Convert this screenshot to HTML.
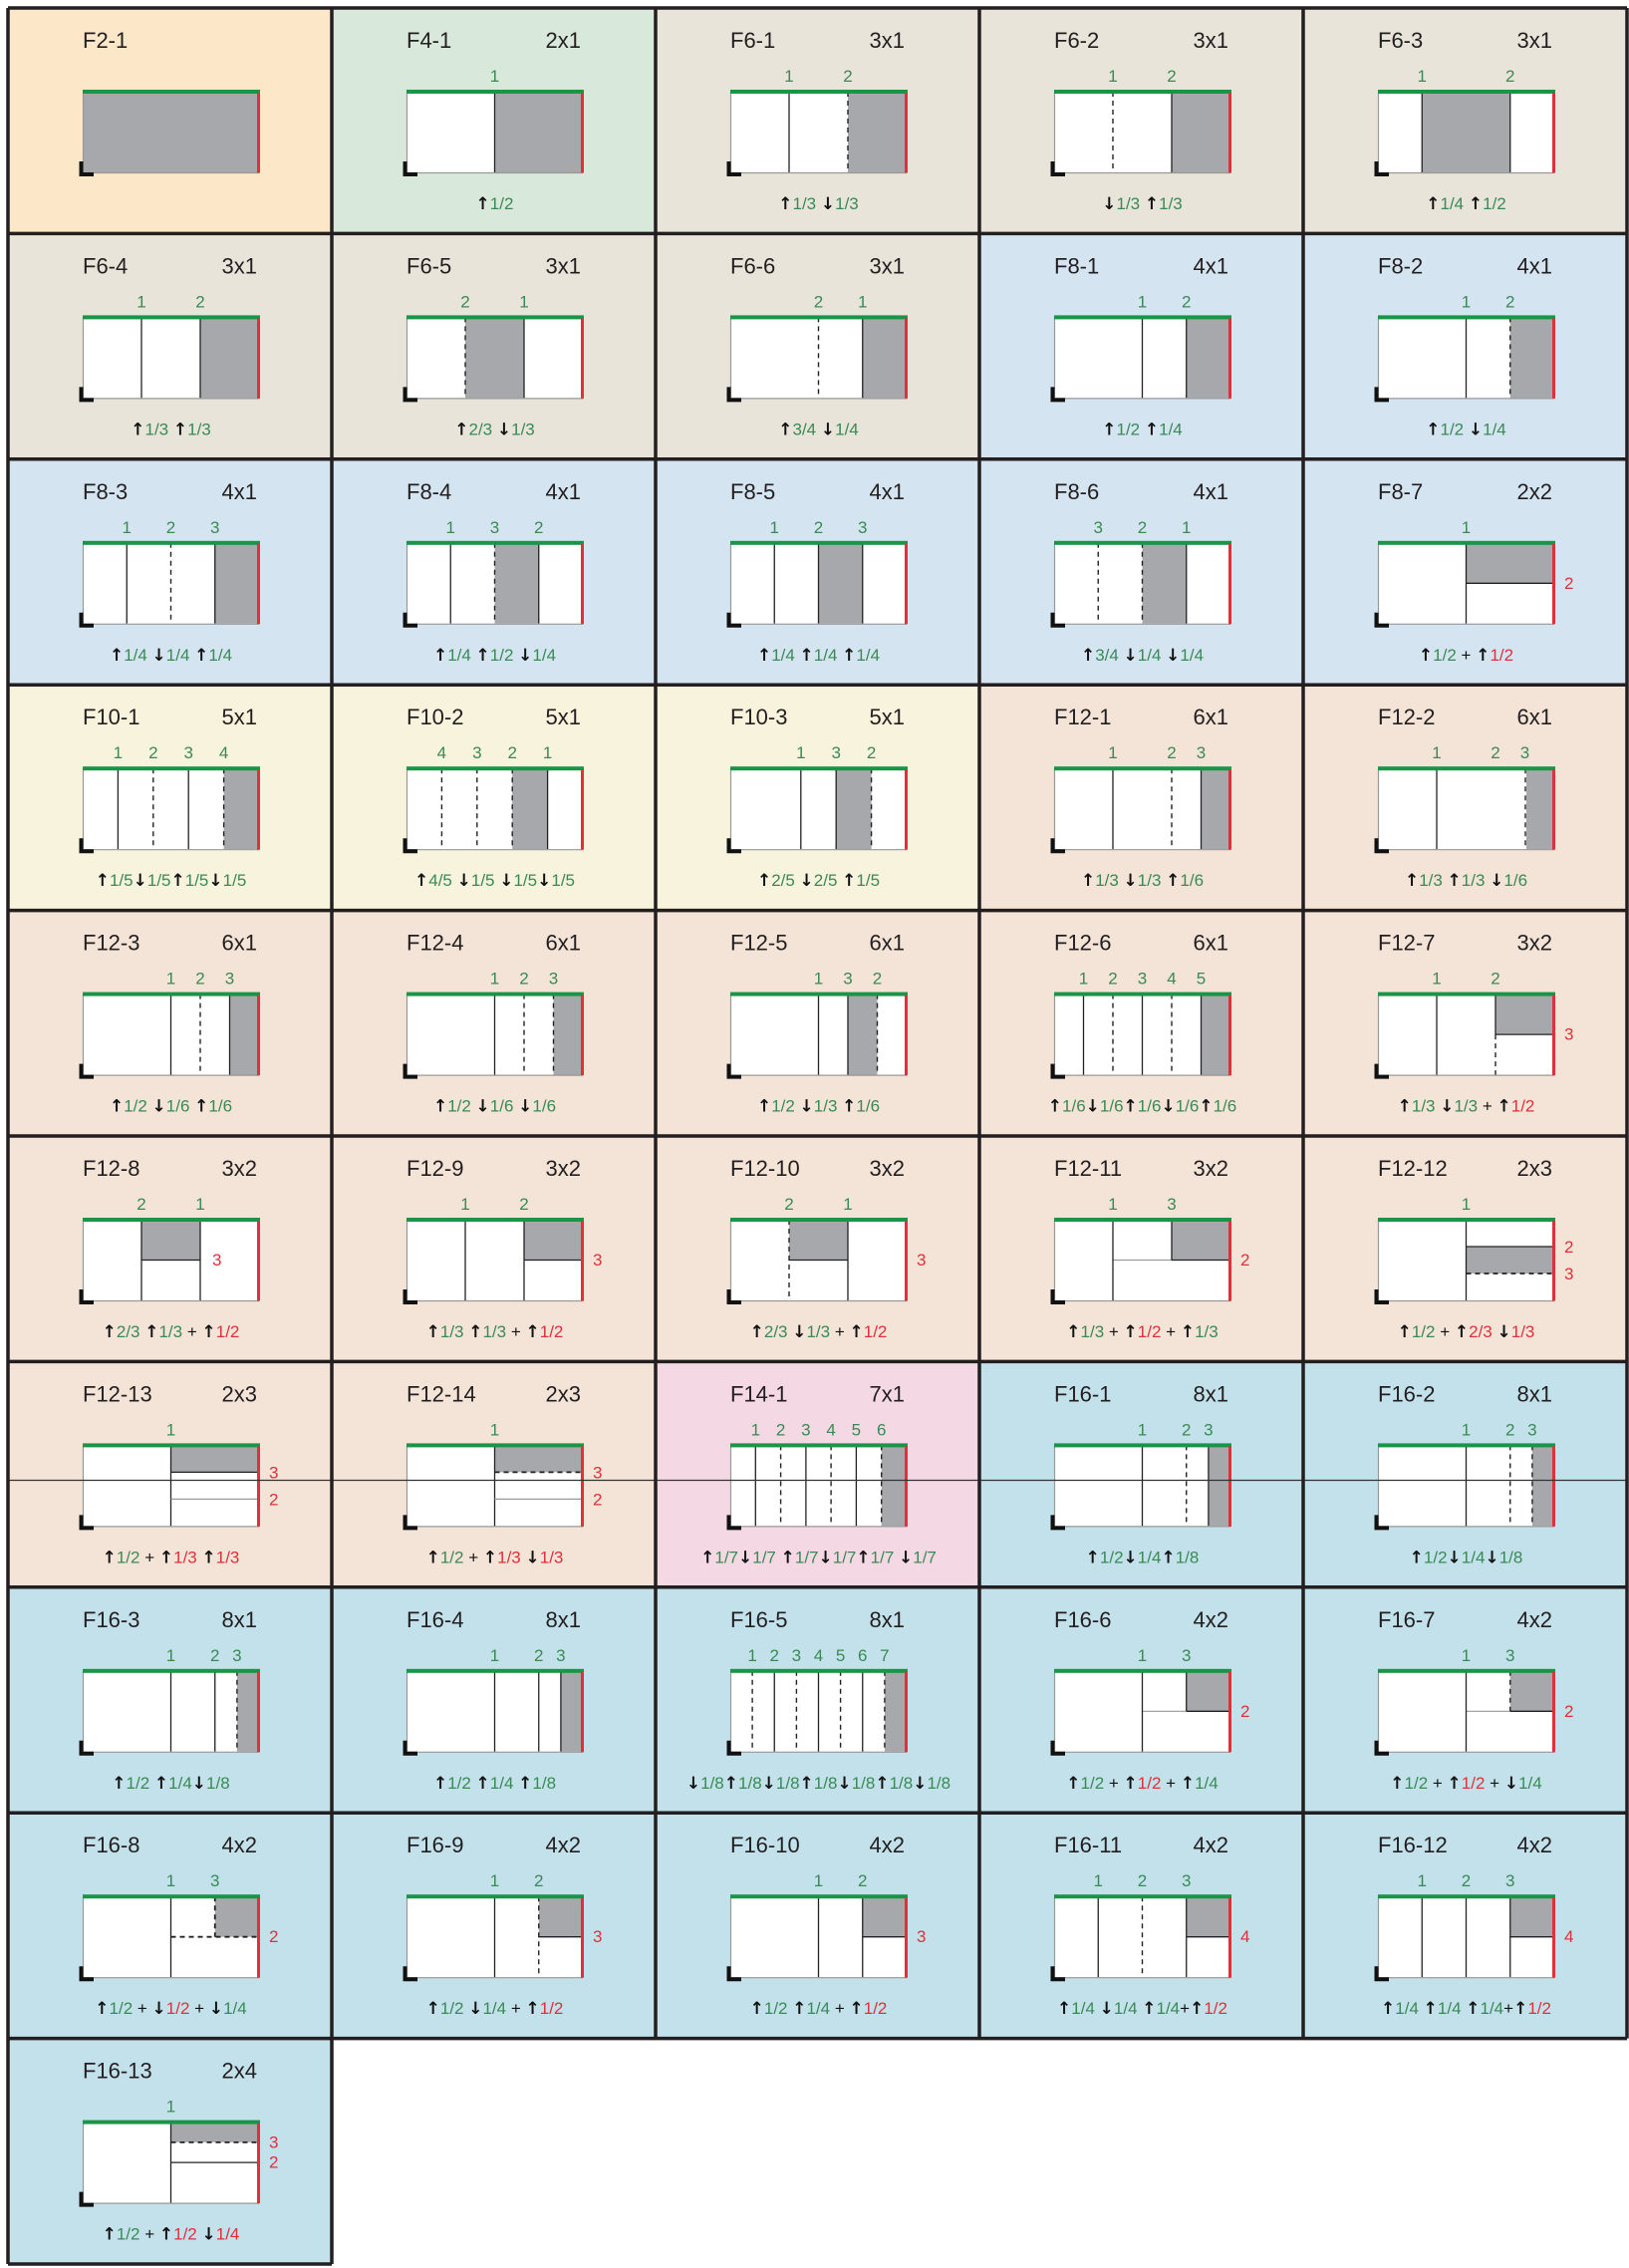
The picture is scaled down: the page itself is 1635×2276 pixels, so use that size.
<!DOCTYPE html>
<html><head><meta charset="utf-8"><style>
html,body{margin:0;padding:0;background:#fff}
svg{display:block}
.t{font:22px "Liberation Sans",sans-serif;fill:#231f20}
.e{text-anchor:end}
.n{font:17px "Liberation Sans",sans-serif;fill:#3a8a55;text-anchor:middle}
.r{font:17px "Liberation Sans",sans-serif;fill:#e0303a}
.b{font:17px "Liberation Sans",sans-serif;fill:#3a8a55;text-anchor:middle}
.a{font-family:"DejaVu Sans",sans-serif;font-weight:bold;fill:#111}
.rd{fill:#e0303a}
.k{fill:#111}
.s{stroke:#222;stroke-width:1.3;fill:none}
.d{stroke:#222;stroke-width:1.4;stroke-dasharray:5 4;fill:none}
.h{stroke:#999;stroke-width:1.2;fill:none}
.g{fill:#a7a8ab}
.w{fill:#fff}
</style></head><body>
<svg width="1635" height="2276" viewBox="0 0 1635 2276" xmlns="http://www.w3.org/2000/svg">
<defs>
<g id="fr"><path d="M75.5 84V165.5H252" stroke="#999" stroke-width="1.2" fill="none"/><rect x="75" y="82" width="178" height="4" fill="#1a9446"/><rect x="250" y="85" width="3" height="80.5" fill="#e0303a"/><path d="M71.5 154h4v11h10.5v4h-14.5z" fill="#111"/></g>
<rect id="wr" x="75" y="84" width="177" height="81" fill="#fff"/>
</defs>

<!-- Row 0 -->
<g transform="translate(8,8)"><rect width="325" height="226.4" fill="#fde7c9"/><use href="#wr"/>
<rect class="g" x="75" y="84" width="177" height="81"/><use href="#fr"/>
<text class="t" x="75" y="40">F2-1</text></g>

<g transform="translate(333,8)"><rect width="325" height="226.4" fill="#d8e8da"/><use href="#wr"/>
<rect class="g" x="163.5" y="84" width="88.5" height="81"/><path class="s" d="M163.5 84V165"/><use href="#fr"/>
<text class="t" x="75" y="40">F4-1</text><text class="t e" x="250" y="40">2x1</text>
<text class="n" x="163.5" y="74">1</text>
<text class="b" x="163.5" y="202"><tspan class="a">↑</tspan>1/2</text></g>

<g transform="translate(658,8)"><rect width="325" height="226.4" fill="#e8e4d9"/><use href="#wr"/>
<rect class="g" x="193" y="84" width="59" height="81"/><path class="s" d="M134 84V165"/><path class="d" d="M193 84V165"/><use href="#fr"/>
<text class="t" x="75" y="40">F6-1</text><text class="t e" x="250" y="40">3x1</text>
<text class="n" x="134" y="74">1</text><text class="n" x="193" y="74">2</text>
<text class="b" x="163.5" y="202"><tspan class="a">↑</tspan>1/3 <tspan class="a">↓</tspan>1/3</text></g>

<g transform="translate(983,8)"><rect width="325" height="226.4" fill="#e8e4d9"/><use href="#wr"/>
<rect class="g" x="193" y="84" width="59" height="81"/><path class="d" d="M134 84V165"/><path class="s" d="M193 84V165"/><use href="#fr"/>
<text class="t" x="75" y="40">F6-2</text><text class="t e" x="250" y="40">3x1</text>
<text class="n" x="134" y="74">1</text><text class="n" x="193" y="74">2</text>
<text class="b" x="163.5" y="202"><tspan class="a">↓</tspan>1/3 <tspan class="a">↑</tspan>1/3</text></g>

<g transform="translate(1308,8)"><rect width="325" height="226.4" fill="#e8e4d9"/><use href="#wr"/>
<rect class="g" x="119.25" y="84" width="88.5" height="81"/><path class="s" d="M119.25 84V165M207.75 84V165"/><use href="#fr"/>
<text class="t" x="75" y="40">F6-3</text><text class="t e" x="250" y="40">3x1</text>
<text class="n" x="119.25" y="74">1</text><text class="n" x="207.75" y="74">2</text>
<text class="b" x="163.5" y="202"><tspan class="a">↑</tspan>1/4 <tspan class="a">↑</tspan>1/2</text></g>

<!-- Row 1 -->
<g transform="translate(8,234.4)"><rect width="325" height="226.4" fill="#e8e4d9"/><use href="#wr"/>
<rect class="g" x="193" y="84" width="59" height="81"/><path class="s" d="M134 84V165M193 84V165"/><use href="#fr"/>
<text class="t" x="75" y="40">F6-4</text><text class="t e" x="250" y="40">3x1</text>
<text class="n" x="134" y="74">1</text><text class="n" x="193" y="74">2</text>
<text class="b" x="163.5" y="202"><tspan class="a">↑</tspan>1/3 <tspan class="a">↑</tspan>1/3</text></g>

<g transform="translate(333,234.4)"><rect width="325" height="226.4" fill="#e8e4d9"/><use href="#wr"/>
<rect class="g" x="134" y="84" width="59" height="81"/><path class="d" d="M134 84V165"/><path class="s" d="M193 84V165"/><use href="#fr"/>
<text class="t" x="75" y="40">F6-5</text><text class="t e" x="250" y="40">3x1</text>
<text class="n" x="134" y="74">2</text><text class="n" x="193" y="74">1</text>
<text class="b" x="163.5" y="202"><tspan class="a">↑</tspan>2/3 <tspan class="a">↓</tspan>1/3</text></g>

<g transform="translate(658,234.4)"><rect width="325" height="226.4" fill="#e8e4d9"/><use href="#wr"/>
<rect class="g" x="207.75" y="84" width="44.25" height="81"/><path class="d" d="M163.5 84V165"/><path class="s" d="M207.75 84V165"/><use href="#fr"/>
<text class="t" x="75" y="40">F6-6</text><text class="t e" x="250" y="40">3x1</text>
<text class="n" x="163.5" y="74">2</text><text class="n" x="207.75" y="74">1</text>
<text class="b" x="163.5" y="202"><tspan class="a">↑</tspan>3/4 <tspan class="a">↓</tspan>1/4</text></g>

<g transform="translate(983,234.4)"><rect width="325" height="226.4" fill="#d4e5f1"/><use href="#wr"/>
<rect class="g" x="207.75" y="84" width="44.25" height="81"/><path class="s" d="M163.5 84V165M207.75 84V165"/><use href="#fr"/>
<text class="t" x="75" y="40">F8-1</text><text class="t e" x="250" y="40">4x1</text>
<text class="n" x="163.5" y="74">1</text><text class="n" x="207.75" y="74">2</text>
<text class="b" x="163.5" y="202"><tspan class="a">↑</tspan>1/2 <tspan class="a">↑</tspan>1/4</text></g>

<g transform="translate(1308,234.4)"><rect width="325" height="226.4" fill="#d4e5f1"/><use href="#wr"/>
<rect class="g" x="207.75" y="84" width="44.25" height="81"/><path class="s" d="M163.5 84V165"/><path class="d" d="M207.75 84V165"/><use href="#fr"/>
<text class="t" x="75" y="40">F8-2</text><text class="t e" x="250" y="40">4x1</text>
<text class="n" x="163.5" y="74">1</text><text class="n" x="207.75" y="74">2</text>
<text class="b" x="163.5" y="202"><tspan class="a">↑</tspan>1/2 <tspan class="a">↓</tspan>1/4</text></g>

<!-- Row 2 -->
<g transform="translate(8,460.8)"><rect width="325" height="226.4" fill="#d4e5f1"/><use href="#wr"/>
<rect class="g" x="207.75" y="84" width="44.25" height="81"/><path class="s" d="M119.25 84V165M207.75 84V165"/><path class="d" d="M163.5 84V165"/><use href="#fr"/>
<text class="t" x="75" y="40">F8-3</text><text class="t e" x="250" y="40">4x1</text>
<text class="n" x="119.25" y="74">1</text><text class="n" x="163.5" y="74">2</text><text class="n" x="207.75" y="74">3</text>
<text class="b" x="163.5" y="202"><tspan class="a">↑</tspan>1/4 <tspan class="a">↓</tspan>1/4 <tspan class="a">↑</tspan>1/4</text></g>

<g transform="translate(333,460.8)"><rect width="325" height="226.4" fill="#d4e5f1"/><use href="#wr"/>
<rect class="g" x="163.5" y="84" width="44.25" height="81"/><path class="s" d="M119.25 84V165M207.75 84V165"/><path class="d" d="M163.5 84V165"/><use href="#fr"/>
<text class="t" x="75" y="40">F8-4</text><text class="t e" x="250" y="40">4x1</text>
<text class="n" x="119.25" y="74">1</text><text class="n" x="163.5" y="74">3</text><text class="n" x="207.75" y="74">2</text>
<text class="b" x="163.5" y="202"><tspan class="a">↑</tspan>1/4 <tspan class="a">↑</tspan>1/2 <tspan class="a">↓</tspan>1/4</text></g>

<g transform="translate(658,460.8)"><rect width="325" height="226.4" fill="#d4e5f1"/><use href="#wr"/>
<rect class="g" x="163.5" y="84" width="44.25" height="81"/><path class="s" d="M119.25 84V165M163.5 84V165M207.75 84V165"/><use href="#fr"/>
<text class="t" x="75" y="40">F8-5</text><text class="t e" x="250" y="40">4x1</text>
<text class="n" x="119.25" y="74">1</text><text class="n" x="163.5" y="74">2</text><text class="n" x="207.75" y="74">3</text>
<text class="b" x="163.5" y="202"><tspan class="a">↑</tspan>1/4 <tspan class="a">↑</tspan>1/4 <tspan class="a">↑</tspan>1/4</text></g>

<g transform="translate(983,460.8)"><rect width="325" height="226.4" fill="#d4e5f1"/><use href="#wr"/>
<rect class="g" x="163.5" y="84" width="44.25" height="81"/><path class="d" d="M119.25 84V165M163.5 84V165"/><path class="s" d="M207.75 84V165"/><use href="#fr"/>
<text class="t" x="75" y="40">F8-6</text><text class="t e" x="250" y="40">4x1</text>
<text class="n" x="119.25" y="74">3</text><text class="n" x="163.5" y="74">2</text><text class="n" x="207.75" y="74">1</text>
<text class="b" x="163.5" y="202"><tspan class="a">↑</tspan>3/4 <tspan class="a">↓</tspan>1/4 <tspan class="a">↓</tspan>1/4</text></g>

<g transform="translate(1308,460.8)"><rect width="325" height="226.4" fill="#d4e5f1"/><use href="#wr"/>
<rect class="g" x="163.5" y="84" width="88.5" height="40.5"/><path class="s" d="M163.5 84V165M163.5 124.5H252"/><use href="#fr"/>
<text class="t" x="75" y="40">F8-7</text><text class="t e" x="250" y="40">2x2</text>
<text class="n" x="163.5" y="74">1</text><text class="r" x="262" y="130">2</text>
<text class="b" x="163.5" y="202"><tspan class="a">↑</tspan>1/2 <tspan class="k">+</tspan> <tspan class="a">↑</tspan><tspan class="rd">1/2</tspan></text></g>

<!-- Row 3 -->
<g transform="translate(8,687.2)"><rect width="325" height="226.4" fill="#f8f3dc"/><use href="#wr"/>
<rect class="g" x="216.6" y="84" width="35.4" height="81"/><path class="s" d="M110.4 84V165M181.2 84V165"/><path class="d" d="M145.8 84V165M216.6 84V165"/><use href="#fr"/>
<text class="t" x="75" y="40">F10-1</text><text class="t e" x="250" y="40">5x1</text>
<text class="n" x="110.4" y="74">1</text><text class="n" x="145.8" y="74">2</text><text class="n" x="181.2" y="74">3</text><text class="n" x="216.6" y="74">4</text>
<text class="b" x="163.5" y="202"><tspan class="a">↑</tspan>1/5<tspan class="a">↓</tspan>1/5<tspan class="a">↑</tspan>1/5<tspan class="a">↓</tspan>1/5</text></g>

<g transform="translate(333,687.2)"><rect width="325" height="226.4" fill="#f8f3dc"/><use href="#wr"/>
<rect class="g" x="181.2" y="84" width="35.4" height="81"/><path class="d" d="M110.4 84V165M145.8 84V165M181.2 84V165"/><path class="s" d="M216.6 84V165"/><use href="#fr"/>
<text class="t" x="75" y="40">F10-2</text><text class="t e" x="250" y="40">5x1</text>
<text class="n" x="110.4" y="74">4</text><text class="n" x="145.8" y="74">3</text><text class="n" x="181.2" y="74">2</text><text class="n" x="216.6" y="74">1</text>
<text class="b" x="163.5" y="202"><tspan class="a">↑</tspan>4/5 <tspan class="a">↓</tspan>1/5 <tspan class="a">↓</tspan>1/5<tspan class="a">↓</tspan>1/5</text></g>

<g transform="translate(658,687.2)"><rect width="325" height="226.4" fill="#f8f3dc"/><use href="#wr"/>
<rect class="g" x="181.2" y="84" width="35.4" height="81"/><path class="s" d="M145.8 84V165M181.2 84V165"/><path class="d" d="M216.6 84V165"/><use href="#fr"/>
<text class="t" x="75" y="40">F10-3</text><text class="t e" x="250" y="40">5x1</text>
<text class="n" x="145.8" y="74">1</text><text class="n" x="181.2" y="74">3</text><text class="n" x="216.6" y="74">2</text>
<text class="b" x="163.5" y="202"><tspan class="a">↑</tspan>2/5 <tspan class="a">↓</tspan>2/5 <tspan class="a">↑</tspan>1/5</text></g>

<g transform="translate(983,687.2)"><rect width="325" height="226.4" fill="#f4e3d7"/><use href="#wr"/>
<rect class="g" x="222.5" y="84" width="29.5" height="81"/><path class="s" d="M134 84V165M222.5 84V165"/><path class="d" d="M193 84V165"/><use href="#fr"/>
<text class="t" x="75" y="40">F12-1</text><text class="t e" x="250" y="40">6x1</text>
<text class="n" x="134" y="74">1</text><text class="n" x="193" y="74">2</text><text class="n" x="222.5" y="74">3</text>
<text class="b" x="163.5" y="202"><tspan class="a">↑</tspan>1/3 <tspan class="a">↓</tspan>1/3 <tspan class="a">↑</tspan>1/6</text></g>

<g transform="translate(1308,687.2)"><rect width="325" height="226.4" fill="#f4e3d7"/><use href="#wr"/>
<rect class="g" x="224" y="84" width="28" height="81"/><path class="s" d="M134 84V165"/><path class="d" d="M223 84V165"/><use href="#fr"/>
<text class="t" x="75" y="40">F12-2</text><text class="t e" x="250" y="40">6x1</text>
<text class="n" x="134" y="74">1</text><text class="n" x="193" y="74">2</text><text class="n" x="222.5" y="74">3</text>
<text class="b" x="163.5" y="202"><tspan class="a">↑</tspan>1/3 <tspan class="a">↑</tspan>1/3 <tspan class="a">↓</tspan>1/6</text></g>

<!-- Row 4 -->
<g transform="translate(8,913.6)"><rect width="325" height="226.4" fill="#f4e3d7"/><use href="#wr"/>
<rect class="g" x="222.5" y="84" width="29.5" height="81"/><path class="s" d="M163.5 84V165M222.5 84V165"/><path class="d" d="M193 84V165"/><use href="#fr"/>
<text class="t" x="75" y="40">F12-3</text><text class="t e" x="250" y="40">6x1</text>
<text class="n" x="163.5" y="74">1</text><text class="n" x="193" y="74">2</text><text class="n" x="222.5" y="74">3</text>
<text class="b" x="163.5" y="202"><tspan class="a">↑</tspan>1/2 <tspan class="a">↓</tspan>1/6 <tspan class="a">↑</tspan>1/6</text></g>

<g transform="translate(333,913.6)"><rect width="325" height="226.4" fill="#f4e3d7"/><use href="#wr"/>
<rect class="g" x="222.5" y="84" width="29.5" height="81"/><path class="s" d="M163.5 84V165"/><path class="d" d="M193 84V165M222.5 84V165"/><use href="#fr"/>
<text class="t" x="75" y="40">F12-4</text><text class="t e" x="250" y="40">6x1</text>
<text class="n" x="163.5" y="74">1</text><text class="n" x="193" y="74">2</text><text class="n" x="222.5" y="74">3</text>
<text class="b" x="163.5" y="202"><tspan class="a">↑</tspan>1/2 <tspan class="a">↓</tspan>1/6 <tspan class="a">↓</tspan>1/6</text></g>

<g transform="translate(658,913.6)"><rect width="325" height="226.4" fill="#f4e3d7"/><use href="#wr"/>
<rect class="g" x="193" y="84" width="29.5" height="81"/><path class="s" d="M163.5 84V165M193 84V165"/><path class="d" d="M222.5 84V165"/><use href="#fr"/>
<text class="t" x="75" y="40">F12-5</text><text class="t e" x="250" y="40">6x1</text>
<text class="n" x="163.5" y="74">1</text><text class="n" x="193" y="74">3</text><text class="n" x="222.5" y="74">2</text>
<text class="b" x="163.5" y="202"><tspan class="a">↑</tspan>1/2 <tspan class="a">↓</tspan>1/3 <tspan class="a">↑</tspan>1/6</text></g>

<g transform="translate(983,913.6)"><rect width="325" height="226.4" fill="#f4e3d7"/><use href="#wr"/>
<rect class="g" x="222.5" y="84" width="29.5" height="81"/><path class="s" d="M104.5 84V165M163.5 84V165M222.5 84V165"/><path class="d" d="M134 84V165M193 84V165"/><use href="#fr"/>
<text class="t" x="75" y="40">F12-6</text><text class="t e" x="250" y="40">6x1</text>
<text class="n" x="104.5" y="74">1</text><text class="n" x="134" y="74">2</text><text class="n" x="163.5" y="74">3</text><text class="n" x="193" y="74">4</text><text class="n" x="222.5" y="74">5</text>
<text class="b" x="163.5" y="202"><tspan class="a">↑</tspan>1/6<tspan class="a">↓</tspan>1/6<tspan class="a">↑</tspan>1/6<tspan class="a">↓</tspan>1/6<tspan class="a">↑</tspan>1/6</text></g>

<g transform="translate(1308,913.6)"><rect width="325" height="226.4" fill="#f4e3d7"/><use href="#wr"/>
<rect class="g" x="193" y="84" width="59" height="40.5"/><path class="s" d="M134 84V165M193 124.5H252M193 84V124.5"/><path class="d" d="M193 124.5V165"/><use href="#fr"/>
<text class="t" x="75" y="40">F12-7</text><text class="t e" x="250" y="40">3x2</text>
<text class="n" x="134" y="74">1</text><text class="n" x="193" y="74">2</text><text class="r" x="262" y="130">3</text>
<text class="b" x="163.5" y="202"><tspan class="a">↑</tspan>1/3 <tspan class="a">↓</tspan>1/3 <tspan class="k">+</tspan> <tspan class="a">↑</tspan><tspan class="rd">1/2</tspan></text></g>

<!-- Row 5 -->
<g transform="translate(8,1140)"><rect width="325" height="226.4" fill="#f4e3d7"/><use href="#wr"/>
<rect class="g" x="134" y="84" width="59" height="40.5"/><path class="s" d="M134 84V165M193 84V165M134 124.5H193"/><use href="#fr"/>
<text class="t" x="75" y="40">F12-8</text><text class="t e" x="250" y="40">3x2</text>
<text class="n" x="134" y="74">2</text><text class="n" x="193" y="74">1</text><text class="r" x="205" y="130">3</text>
<text class="b" x="163.5" y="202"><tspan class="a">↑</tspan>2/3 <tspan class="a">↑</tspan>1/3 <tspan class="k">+</tspan> <tspan class="a">↑</tspan><tspan class="rd">1/2</tspan></text></g>

<g transform="translate(333,1140)"><rect width="325" height="226.4" fill="#f4e3d7"/><use href="#wr"/>
<rect class="g" x="193" y="84" width="59" height="40.5"/><path class="s" d="M134 84V165M193 84V165M193 124.5H252"/><use href="#fr"/>
<text class="t" x="75" y="40">F12-9</text><text class="t e" x="250" y="40">3x2</text>
<text class="n" x="134" y="74">1</text><text class="n" x="193" y="74">2</text><text class="r" x="262" y="130">3</text>
<text class="b" x="163.5" y="202"><tspan class="a">↑</tspan>1/3 <tspan class="a">↑</tspan>1/3 <tspan class="k">+</tspan> <tspan class="a">↑</tspan><tspan class="rd">1/2</tspan></text></g>

<g transform="translate(658,1140)"><rect width="325" height="226.4" fill="#f4e3d7"/><use href="#wr"/>
<rect class="g" x="134" y="84" width="59" height="40.5"/><path class="d" d="M134 84V165"/><path class="s" d="M193 84V165M134 124.5H193"/><use href="#fr"/>
<text class="t" x="75" y="40">F12-10</text><text class="t e" x="250" y="40">3x2</text>
<text class="n" x="134" y="74">2</text><text class="n" x="193" y="74">1</text><text class="r" x="262" y="130">3</text>
<text class="b" x="163.5" y="202"><tspan class="a">↑</tspan>2/3 <tspan class="a">↓</tspan>1/3 <tspan class="k">+</tspan> <tspan class="a">↑</tspan><tspan class="rd">1/2</tspan></text></g>

<g transform="translate(983,1140)"><rect width="325" height="226.4" fill="#f4e3d7"/><use href="#wr"/>
<rect class="g" x="193" y="84" width="59" height="40.5"/><path class="h" d="M134 124.5H193"/><path class="s" d="M134 84V165M193 84V124.5M193 124.5H252M134 84.5H193"/><use href="#fr"/>
<text class="t" x="75" y="40">F12-11</text><text class="t e" x="250" y="40">3x2</text>
<text class="n" x="134" y="74">1</text><text class="n" x="193" y="74">3</text><text class="r" x="262" y="130">2</text>
<text class="b" x="163.5" y="202"><tspan class="a">↑</tspan>1/3 <tspan class="k">+</tspan> <tspan class="a">↑</tspan><tspan class="rd">1/2</tspan> <tspan class="k">+</tspan> <tspan class="a">↑</tspan>1/3</text></g>

<g transform="translate(1308,1140)"><rect width="325" height="226.4" fill="#f4e3d7"/><use href="#wr"/>
<rect class="g" x="163.5" y="111" width="88.5" height="27"/><path class="s" d="M163.5 84V165M163.5 111H252M163.5 84.5H252"/><path class="d" d="M163.5 138H252" style="stroke-width:1.8"/><use href="#fr"/>
<text class="t" x="75" y="40">F12-12</text><text class="t e" x="250" y="40">2x3</text>
<text class="n" x="163.5" y="74">1</text><text class="r" x="262" y="117">2</text><text class="r" x="262" y="144">3</text>
<text class="b" x="163.5" y="202"><tspan class="a">↑</tspan>1/2 <tspan class="k">+</tspan> <tspan class="a">↑</tspan><tspan class="rd">2/3</tspan>  <tspan class="a">↓</tspan><tspan class="rd">1/3</tspan></text></g>

<!-- Row 6 -->
<g transform="translate(8,1366.4)"><rect width="325" height="226.4" fill="#f4e3d7"/><use href="#wr"/>
<rect class="g" x="163.5" y="84" width="88.5" height="27"/><path class="s" d="M163.5 84V165M163.5 111H252"/><path class="h" d="M163.5 138H252"/><use href="#fr"/>
<text class="t" x="75" y="40">F12-13</text><text class="t e" x="250" y="40">2x3</text>
<text class="n" x="163.5" y="74">1</text><text class="r" x="262" y="117">3</text><text class="r" x="262" y="144">2</text>
<text class="b" x="163.5" y="202"><tspan class="a">↑</tspan>1/2 <tspan class="k">+</tspan> <tspan class="a">↑</tspan><tspan class="rd">1/3</tspan>  <tspan class="a">↑</tspan><tspan class="rd">1/3</tspan></text></g>

<g transform="translate(333,1366.4)"><rect width="325" height="226.4" fill="#f4e3d7"/><use href="#wr"/>
<rect class="g" x="163.5" y="84" width="88.5" height="27"/><path class="s" d="M163.5 84V165"/><path class="d" d="M163.5 111H252" style="stroke-width:1.8"/><path class="h" d="M163.5 138H252"/><use href="#fr"/>
<text class="t" x="75" y="40">F12-14</text><text class="t e" x="250" y="40">2x3</text>
<text class="n" x="163.5" y="74">1</text><text class="r" x="262" y="117">3</text><text class="r" x="262" y="144">2</text>
<text class="b" x="163.5" y="202"><tspan class="a">↑</tspan>1/2 <tspan class="k">+</tspan> <tspan class="a">↑</tspan><tspan class="rd">1/3</tspan>  <tspan class="a">↓</tspan><tspan class="rd">1/3</tspan></text></g>

<g transform="translate(658,1366.4)"><rect width="325" height="226.4" fill="#f4d8e4"/><use href="#wr"/>
<rect class="g" x="226.7" y="84" width="25.3" height="81"/><path class="s" d="M100.3 84V165M150.9 84V165M201.4 84V165"/><path class="d" d="M125.6 84V165M176.1 84V165M226.7 84V165"/><use href="#fr"/>
<text class="t" x="75" y="40">F14-1</text><text class="t e" x="250" y="40">7x1</text>
<text class="n" x="100.3" y="74">1</text><text class="n" x="125.6" y="74">2</text><text class="n" x="150.9" y="74">3</text><text class="n" x="176.1" y="74">4</text><text class="n" x="201.4" y="74">5</text><text class="n" x="226.7" y="74">6</text>
<text class="b" x="163.5" y="202"><tspan class="a">↑</tspan>1/7<tspan class="a">↓</tspan>1/7 <tspan class="a">↑</tspan>1/7<tspan class="a">↓</tspan>1/7<tspan class="a">↑</tspan>1/7 <tspan class="a">↓</tspan>1/7</text></g>

<g transform="translate(983,1366.4)"><rect width="325" height="226.4" fill="#c2e1eb"/><use href="#wr"/>
<rect class="g" x="229.9" y="84" width="22.1" height="81"/><path class="s" d="M163.5 84V165M229.9 84V165"/><path class="d" d="M207.75 84V165"/><use href="#fr"/>
<text class="t" x="75" y="40">F16-1</text><text class="t e" x="250" y="40">8x1</text>
<text class="n" x="163.5" y="74">1</text><text class="n" x="207.75" y="74">2</text><text class="n" x="229.9" y="74">3</text>
<text class="b" x="163.5" y="202"><tspan class="a">↑</tspan>1/2<tspan class="a">↓</tspan>1/4<tspan class="a">↑</tspan>1/8</text></g>

<g transform="translate(1308,1366.4)"><rect width="325" height="226.4" fill="#c2e1eb"/><use href="#wr"/>
<rect class="g" x="229.9" y="84" width="22.1" height="81"/><path class="s" d="M163.5 84V165"/><path class="d" d="M207.75 84V165M229.9 84V165"/><use href="#fr"/>
<text class="t" x="75" y="40">F16-2</text><text class="t e" x="250" y="40">8x1</text>
<text class="n" x="163.5" y="74">1</text><text class="n" x="207.75" y="74">2</text><text class="n" x="229.9" y="74">3</text>
<text class="b" x="163.5" y="202"><tspan class="a">↑</tspan>1/2<tspan class="a">↓</tspan>1/4<tspan class="a">↓</tspan>1/8</text></g>

<!-- Row 7 -->
<g transform="translate(8,1592.8)"><rect width="325" height="226.4" fill="#c2e1eb"/><use href="#wr"/>
<rect class="g" x="229.9" y="84" width="22.1" height="81"/><path class="s" d="M163.5 84V165M207.75 84V165"/><path class="d" d="M229.9 84V165"/><use href="#fr"/>
<text class="t" x="75" y="40">F16-3</text><text class="t e" x="250" y="40">8x1</text>
<text class="n" x="163.5" y="74">1</text><text class="n" x="207.75" y="74">2</text><text class="n" x="229.9" y="74">3</text>
<text class="b" x="163.5" y="202"><tspan class="a">↑</tspan>1/2 <tspan class="a">↑</tspan>1/4<tspan class="a">↓</tspan>1/8</text></g>

<g transform="translate(333,1592.8)"><rect width="325" height="226.4" fill="#c2e1eb"/><use href="#wr"/>
<rect class="g" x="229.9" y="84" width="22.1" height="81"/><path class="s" d="M163.5 84V165M207.75 84V165M229.9 84V165"/><use href="#fr"/>
<text class="t" x="75" y="40">F16-4</text><text class="t e" x="250" y="40">8x1</text>
<text class="n" x="163.5" y="74">1</text><text class="n" x="207.75" y="74">2</text><text class="n" x="229.9" y="74">3</text>
<text class="b" x="163.5" y="202"><tspan class="a">↑</tspan>1/2 <tspan class="a">↑</tspan>1/4 <tspan class="a">↑</tspan>1/8</text></g>

<g transform="translate(658,1592.8)"><rect width="325" height="226.4" fill="#c2e1eb"/><use href="#wr"/>
<rect class="g" x="229.9" y="84" width="22.1" height="81"/><path class="s" d="M119.25 84V165M163.5 84V165M207.75 84V165"/><path class="d" d="M97.1 84V165M141.4 84V165M185.6 84V165M229.9 84V165"/><use href="#fr"/>
<text class="t" x="75" y="40">F16-5</text><text class="t e" x="250" y="40">8x1</text>
<text class="n" x="97.1" y="74">1</text><text class="n" x="119.25" y="74">2</text><text class="n" x="141.4" y="74">3</text><text class="n" x="163.5" y="74">4</text><text class="n" x="185.6" y="74">5</text><text class="n" x="207.75" y="74">6</text><text class="n" x="229.9" y="74">7</text>
<text class="b" x="163.5" y="202"><tspan class="a">↓</tspan>1/8<tspan class="a">↑</tspan>1/8<tspan class="a">↓</tspan>1/8<tspan class="a">↑</tspan>1/8<tspan class="a">↓</tspan>1/8<tspan class="a">↑</tspan>1/8<tspan class="a">↓</tspan>1/8</text></g>

<g transform="translate(983,1592.8)"><rect width="325" height="226.4" fill="#c2e1eb"/><use href="#wr"/>
<rect class="g" x="207.75" y="84" width="44.25" height="40.5"/><path class="h" d="M163.5 124.5H207.75"/><path class="s" d="M163.5 84V165M207.75 84V124.5M207.75 124.5H252M163.5 84.5H252"/><use href="#fr"/>
<text class="t" x="75" y="40">F16-6</text><text class="t e" x="250" y="40">4x2</text>
<text class="n" x="163.5" y="74">1</text><text class="n" x="207.75" y="74">3</text><text class="r" x="262" y="130">2</text>
<text class="b" x="163.5" y="202"><tspan class="a">↑</tspan>1/2 <tspan class="k">+</tspan> <tspan class="a">↑</tspan><tspan class="rd">1/2</tspan> <tspan class="k">+</tspan> <tspan class="a">↑</tspan>1/4</text></g>

<g transform="translate(1308,1592.8)"><rect width="325" height="226.4" fill="#c2e1eb"/><use href="#wr"/>
<rect class="g" x="207.75" y="84" width="44.25" height="40.5"/><path class="h" d="M163.5 124.5H207.75"/><path class="s" d="M163.5 84V165M207.75 124.5H252M163.5 84.5H252"/><path class="d" d="M207.75 84V124.5"/><use href="#fr"/>
<text class="t" x="75" y="40">F16-7</text><text class="t e" x="250" y="40">4x2</text>
<text class="n" x="163.5" y="74">1</text><text class="n" x="207.75" y="74">3</text><text class="r" x="262" y="130">2</text>
<text class="b" x="163.5" y="202"><tspan class="a">↑</tspan>1/2 <tspan class="k">+</tspan> <tspan class="a">↑</tspan><tspan class="rd">1/2</tspan> <tspan class="k">+</tspan> <tspan class="a">↓</tspan>1/4</text></g>

<!-- Row 8 -->
<g transform="translate(8,1819.2)"><rect width="325" height="226.4" fill="#c2e1eb"/><use href="#wr"/>
<rect class="g" x="207.75" y="84" width="44.25" height="40.5"/><path class="s" d="M163.5 84V165M163.5 84.5H252"/><path class="d" d="M207.75 84V124.5M163.5 124.5H252" style="stroke-width:1.8"/><use href="#fr"/>
<text class="t" x="75" y="40">F16-8</text><text class="t e" x="250" y="40">4x2</text>
<text class="n" x="163.5" y="74">1</text><text class="n" x="207.75" y="74">3</text><text class="r" x="262" y="130">2</text>
<text class="b" x="163.5" y="202"><tspan class="a">↑</tspan>1/2 <tspan class="k">+</tspan> <tspan class="a">↓</tspan><tspan class="rd">1/2</tspan> <tspan class="k">+</tspan> <tspan class="a">↓</tspan>1/4</text></g>

<g transform="translate(333,1819.2)"><rect width="325" height="226.4" fill="#c2e1eb"/><use href="#wr"/>
<rect class="g" x="207.75" y="84" width="44.25" height="40.5"/><path class="s" d="M163.5 84V165M207.75 124.5H252M207.75 84.5H252"/><path class="d" d="M207.75 84V165"/><use href="#fr"/>
<text class="t" x="75" y="40">F16-9</text><text class="t e" x="250" y="40">4x2</text>
<text class="n" x="163.5" y="74">1</text><text class="n" x="207.75" y="74">2</text><text class="r" x="262" y="130">3</text>
<text class="b" x="163.5" y="202"><tspan class="a">↑</tspan>1/2 <tspan class="a">↓</tspan>1/4 <tspan class="k">+</tspan> <tspan class="a">↑</tspan><tspan class="rd">1/2</tspan></text></g>

<g transform="translate(658,1819.2)"><rect width="325" height="226.4" fill="#c2e1eb"/><use href="#wr"/>
<rect class="g" x="207.75" y="84" width="44.25" height="40.5"/><path class="s" d="M163.5 84V165M207.75 84V165M207.75 124.5H252M207.75 84.5H252"/><use href="#fr"/>
<text class="t" x="75" y="40">F16-10</text><text class="t e" x="250" y="40">4x2</text>
<text class="n" x="163.5" y="74">1</text><text class="n" x="207.75" y="74">2</text><text class="r" x="262" y="130">3</text>
<text class="b" x="163.5" y="202"><tspan class="a">↑</tspan>1/2 <tspan class="a">↑</tspan>1/4 <tspan class="k">+</tspan> <tspan class="a">↑</tspan><tspan class="rd">1/2</tspan></text></g>

<g transform="translate(983,1819.2)"><rect width="325" height="226.4" fill="#c2e1eb"/><use href="#wr"/>
<rect class="g" x="207.75" y="84" width="44.25" height="40.5"/><path class="s" d="M119.25 84V165M207.75 84V165M207.75 124.5H252M207.75 84.5H252"/><path class="d" d="M163.5 84V165"/><use href="#fr"/>
<text class="t" x="75" y="40">F16-11</text><text class="t e" x="250" y="40">4x2</text>
<text class="n" x="119.25" y="74">1</text><text class="n" x="163.5" y="74">2</text><text class="n" x="207.75" y="74">3</text><text class="r" x="262" y="130">4</text>
<text class="b" x="163.5" y="202"><tspan class="a">↑</tspan>1/4 <tspan class="a">↓</tspan>1/4 <tspan class="a">↑</tspan>1/4<tspan class="k">+</tspan><tspan class="a">↑</tspan><tspan class="rd">1/2</tspan></text></g>

<g transform="translate(1308,1819.2)"><rect width="325" height="226.4" fill="#c2e1eb"/><use href="#wr"/>
<rect class="g" x="207.75" y="84" width="44.25" height="40.5"/><path class="s" d="M119.25 84V165M163.5 84V165M207.75 84V165M207.75 124.5H252M207.75 84.5H252"/><use href="#fr"/>
<text class="t" x="75" y="40">F16-12</text><text class="t e" x="250" y="40">4x2</text>
<text class="n" x="119.25" y="74">1</text><text class="n" x="163.5" y="74">2</text><text class="n" x="207.75" y="74">3</text><text class="r" x="262" y="130">4</text>
<text class="b" x="163.5" y="202"><tspan class="a">↑</tspan>1/4 <tspan class="a">↑</tspan>1/4 <tspan class="a">↑</tspan>1/4<tspan class="k">+</tspan><tspan class="a">↑</tspan><tspan class="rd">1/2</tspan></text></g>

<!-- Row 9 -->
<g transform="translate(8,2045.6)"><rect width="325" height="226.4" fill="#c2e1eb"/><use href="#wr"/>
<rect class="g" x="163.5" y="84" width="88.5" height="20.25"/><path class="s" d="M163.5 84V165M163.5 124.5H252M163.5 84.5H252"/><path class="d" d="M163.5 104.25H252" style="stroke-width:1.8"/><use href="#fr"/>
<text class="t" x="75" y="40">F16-13</text><text class="t e" x="250" y="40">2x4</text>
<text class="n" x="163.5" y="74">1</text><text class="r" x="262" y="110">3</text><text class="r" x="262" y="130">2</text>
<text class="b" x="163.5" y="202"><tspan class="a">↑</tspan>1/2 <tspan class="k">+</tspan> <tspan class="a">↑</tspan><tspan class="rd">1/2</tspan>  <tspan class="a">↓</tspan><tspan class="rd">1/4</tspan></text></g>

<!-- thin cross line -->
<path d="M8 1485.5H1633" stroke="#333" stroke-width="1.3"/>

<!-- grid -->
<g stroke="#231f20" stroke-width="3.5" fill="none">
<path d="M8 8V2272M333 8V2272M658 8V2045.6M983 8V2045.6M1308 8V2045.6M1633 8V2045.6"/>
<path d="M8 8H1633M8 234.4H1633M8 460.8H1633M8 687.2H1633M8 913.6H1633M8 1140H1633M8 1366.4H1633M8 1592.8H1633M8 1819.2H1633M8 2045.6H1633M8 2272H333"/>
</g>
</svg>
</body></html>
